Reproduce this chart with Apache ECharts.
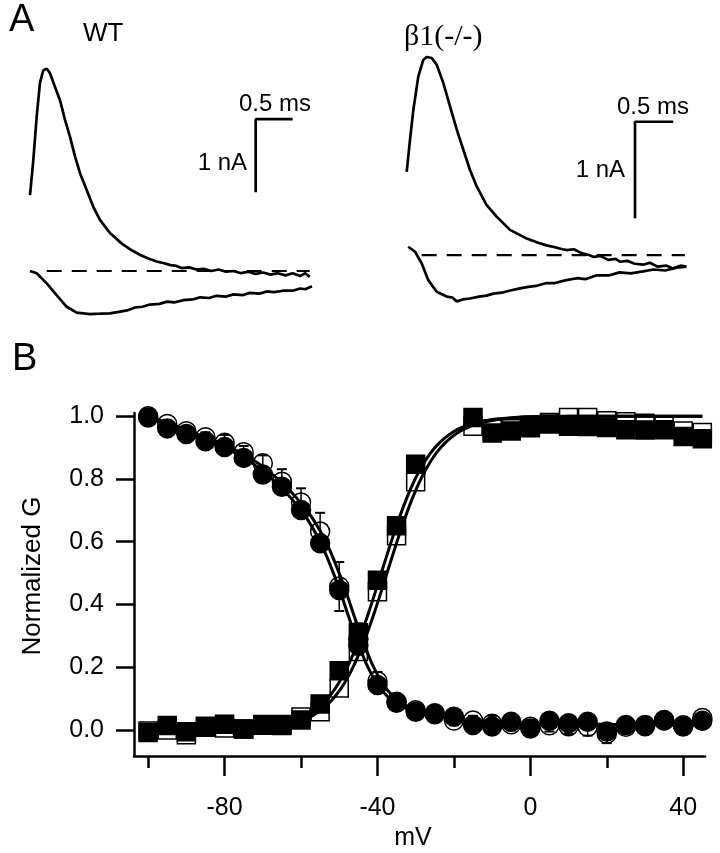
<!DOCTYPE html>
<html><head><meta charset="utf-8">
<script src="https://cdn.jsdelivr.net/npm/echarts@6/dist/echarts.min.js"></script>
<style>html,body{margin:0;padding:0;background:#fff}#c{width:720px;height:853px}</style>
</head><body><div id="c"></div>
<script>
// ---------- Panel A : WT traces (time in ms, current in nA) ----------
const wtUpT = [0,0.045,0.09,0.135,0.18,0.226,0.27,0.338,0.405,0.473,0.54,0.608,0.676,0.766,0.855,0.946,1.08,1.18,1.26,1.38,1.49,1.6,1.71,1.8,1.9,1.98,2.05,2.15,2.25,2.35,2.45,2.55,2.65,2.75,2.85,2.95,3.05,3.15,3.25,3.35,3.45,3.55,3.65,3.72,3.78];
const wtUpI = [1.04,1.52,2.11,2.58,2.75,2.77,2.71,2.52,2.34,2.07,1.84,1.57,1.34,1.11,0.88,0.70,0.52,0.43,0.36,0.28,0.22,0.17,0.13,0.11,0.08,0.07,0.04,0.05,0.02,0.03,0.0,0.02,-0.01,0.0,-0.03,-0.01,-0.04,-0.02,-0.05,-0.03,-0.06,-0.03,-0.07,-0.03,-0.08];
const wtLoT = [0,0.09,0.226,0.36,0.496,0.63,0.81,0.95,1.08,1.2,1.31,1.42,1.52,1.62,1.75,1.85,1.95,2.07,2.2,2.3,2.42,2.52,2.65,2.75,2.88,2.97,3.1,3.2,3.3,3.42,3.55,3.65,3.72,3.81];
const wtLoI = [0.0,-0.03,-0.17,-0.33,-0.49,-0.57,-0.59,-0.585,-0.58,-0.56,-0.54,-0.5,-0.49,-0.46,-0.45,-0.42,-0.43,-0.40,-0.39,-0.36,-0.37,-0.34,-0.35,-0.32,-0.33,-0.30,-0.31,-0.28,-0.29,-0.27,-0.27,-0.24,-0.25,-0.21];
const wtBaseT = [0.226,3.78];
const wtBarT = [3.55,3.05,3.05];
const wtBarI = [2.08,2.08,1.08];

// ---------- Panel A : beta1(-/-) traces ----------
const b1UpT = [0,0.043,0.087,0.153,0.218,0.263,0.329,0.395,0.482,0.57,0.658,0.745,0.833,0.921,1.05,1.18,1.36,1.58,1.72,1.84,1.95,2.05,2.11,2.2,2.3,2.4,2.46,2.55,2.65,2.75,2.81,2.9,3.0,3.11,3.2,3.3,3.42,3.5,3.6,3.68];
const b1UpI = [0.86,1.19,1.50,1.85,2.02,2.05,2.04,1.97,1.78,1.54,1.30,1.09,0.88,0.71,0.52,0.40,0.26,0.17,0.13,0.10,0.08,0.06,0.05,0.06,0.02,0.0,-0.02,-0.01,-0.05,-0.04,-0.07,-0.06,-0.09,-0.10,-0.08,-0.12,-0.11,-0.14,-0.11,-0.12];
const b1LoT = [0.02,0.11,0.197,0.284,0.395,0.526,0.6,0.658,0.74,0.833,0.95,1.05,1.14,1.25,1.35,1.49,1.6,1.7,1.84,1.95,2.1,2.24,2.35,2.5,2.67,2.8,2.95,3.11,3.25,3.4,3.55,3.68];
const b1LoI = [0.086,0.034,-0.086,-0.26,-0.38,-0.43,-0.44,-0.48,-0.46,-0.45,-0.43,-0.42,-0.40,-0.39,-0.37,-0.345,-0.33,-0.32,-0.29,-0.29,-0.26,-0.24,-0.25,-0.21,-0.21,-0.18,-0.19,-0.17,-0.15,-0.16,-0.13,-0.12];
const b1BaseT = [0.197,3.66];
const b1BarT = [3.508,3.004,3.004];
const b1BarI = [1.38,1.38,0.38];

// ---------- Panel B : normalized conductance vs mV ----------
const volts = [-100,-95,-90,-85,-80,-75,-70,-65,-60,-55,-50,-45,-40,-35,-30,-25,-20,-15,-10,-5,0,5,10,15,20,25,30,35,40,45];
const inactFilled = [0.996,0.961,0.943,0.92,0.902,0.867,0.814,0.775,0.701,0.595,0.446,0.27,0.143,0.087,0.058,0.053,0.042,0.016,0.011,0.026,0.005,0.029,0.021,0.026,-0.005,0.016,0.016,0.032,0.011,0.029];
const inactOpen = [1.0,0.975,0.952,0.933,0.915,0.885,0.85,0.791,0.725,0.632,0.457,0.29,0.155,0.09,0.063,0.05,0.03,0.03,0.02,0.018,0.01,0.015,0.012,0.01,-0.012,0.01,0.012,0.03,0.015,0.038];
const inactOpenErr = [0,0.01,0.012,0.015,0.025,0.02,0.025,0.04,0.045,0.06,0.078,0.05,0.03,0.015,0.01,0.01,0.015,0.015,0.025,0.02,0.01,0.02,0.025,0.028,0.03,0.015,0.025,0.01,0.01,0.01];
const actFilled = [-0.008,0.014,-0.006,0.009,0.018,0.003,0.017,0.014,0.032,0.083,0.189,0.31,0.477,0.651,0.847,null,null,0.996,0.946,0.953,0.963,0.975,0.968,0.967,0.964,0.957,0.956,0.957,0.935,0.928];
const actOpen = [-0.003,0.0,-0.015,0.012,0.006,0.003,0.015,0.017,0.041,0.058,0.134,0.25,0.44,0.619,0.791,null,null,0.968,0.96,0.96,0.97,0.98,0.996,0.996,0.985,0.982,0.977,0.968,0.953,0.948];

// fitted curves
const actFitV1 = [-100,-90,-80,-70,-65,-60,-57.5,-55,-52.5,-50,-47.5,-45,-42.5,-40,-37.5,-35,-32.5,-30,-27.5,-25,-22.5,-20,-17.5,-15,-10,-5,0,10,45];
const actFitV2 = [-100,-88.5,-78.5,-68.5,-63.5,-58.5,-56,-53.5,-51,-48.5,-46,-43.5,-41,-38.5,-36,-33.5,-31,-28.5,-26,-23.5,-21,-18.5,-16,-13.5,-8.5,-3.5,1.5,11.5,45];
const actFitG = [0.0,0.0003,0.002,0.008,0.017,0.036,0.053,0.076,0.108,0.152,0.21,0.282,0.367,0.461,0.558,0.651,0.734,0.803,0.858,0.899,0.929,0.951,0.966,0.977,0.989,0.995,0.998,0.9995,1.0];
const inactFitV1 = [-100,-95,-90,-85,-80,-75,-70,-65,-60,-57.5,-55,-52.5,-50,-47.5,-45,-42.5,-40,-37.5,-35,-30,-25,-20,-10,0,45];
const inactFitV2 = [-100,-93.5,-88.5,-83.5,-78.5,-73.5,-68.5,-63.5,-58.5,-56,-53.5,-51,-48.5,-46,-43.5,-41,-38.5,-36,-33.5,-28.5,-23.5,-18.5,-8.5,1.5,45];
const inactFitH1 = [0.995,0.972,0.948,0.925,0.9,0.868,0.825,0.77,0.7,0.655,0.6,0.53,0.45,0.36,0.275,0.2,0.145,0.108,0.083,0.058,0.045,0.035,0.025,0.02,0.015];
const inactFitH2 = [1.0,0.972,0.948,0.925,0.9,0.868,0.825,0.77,0.7,0.655,0.6,0.53,0.45,0.36,0.275,0.2,0.145,0.108,0.083,0.058,0.045,0.035,0.025,0.02,0.015];

const xMajorTicks = [-80,-40,0,40];
const xMinorTicks = [-100,-60,-20,20];
const yTicks = [0,0.2,0.4,0.6,0.8,1.0];

// ---------- build ----------
const FONT = '"Liberation Sans", Arial, Helvetica, sans-serif';
const zip = (xs, ys) => xs.map((x, i) => ys[i] == null ? null : [x, ys[i]]).filter(Boolean);
const zipC = (xs, v) => xs.map(x => [x, v]);

function trace(xi, yi, data, extra) {
  return Object.assign({type:'line', xAxisIndex:xi, yAxisIndex:yi, data:data, symbol:'none', showSymbol:false,
    lineStyle:{color:'#000', width:2.7}, silent:true, clip:false}, extra||{});
}
function fitLine(data) {
  return {type:'line', xAxisIndex:2, yAxisIndex:2, data:data, symbol:'none', showSymbol:false, smooth:0.4,
    lineStyle:{color:'#000', width:3}, silent:true, clip:false, z:3};
}
function scatter(data, sym, size, filled, z) {
  return {type:'scatter', xAxisIndex:2, yAxisIndex:2, data:data, symbol:sym, symbolSize:size, clip:false, silent:true, z:z,
    itemStyle:{color: filled ? '#000' : '#fff', borderColor:'#000', borderWidth:1.5, opacity:1}};
}
function txt(x, y, text, size, align, family, rot) {
  return {type:'text', x:x, y:y, rotation: rot||0, silent:true,
    style:{text:text, font: size + 'px ' + (family||FONT), fill:'#000', textAlign:align||'left', align:align||'left', textVerticalAlign:'middle', verticalAlign:'middle'}};
}

const chart = echarts.init(document.getElementById('c'));
const option = {
  animation:false,
  backgroundColor:'#fff',
  grid:[
    {left:30, top:37.4, width:296, height:292},
    {left:406.7, top:23.2, width:304, height:309.1},
    {left:134, top:413, width:571, height:343}
  ],
  xAxis:[
    {gridIndex:0, type:'value', min:0, max:4, show:false},
    {gridIndex:1, type:'value', min:0, max:4, show:false},
    {gridIndex:2, type:'value', position:'bottom', min:-103.7, max:45.7,
      axisLine:{show:true, onZero:false, lineStyle:{color:'#000', width:2.5}},
      axisTick:{show:true, length:20, customValues:xMajorTicks, lineStyle:{color:'#000', width:2.5}},
      axisLabel:{show:true, customValues:xMajorTicks, fontSize:25, fontFamily:FONT, color:'#000', margin:40},
      splitLine:{show:false}},
    {gridIndex:2, type:'value', position:'bottom', min:-103.7, max:45.7,
      axisLine:{show:false, onZero:false},
      axisTick:{show:true, length:12, customValues:xMinorTicks, lineStyle:{color:'#000', width:2.5}},
      axisLabel:{show:false}, splitLine:{show:false}}
  ],
  yAxis:[
    {gridIndex:0, type:'value', min:-0.8, max:3.2, show:false},
    {gridIndex:1, type:'value', min:-0.8, max:2.4, show:false},
    {gridIndex:2, type:'value', min:-0.083, max:1.01,
      axisLine:{show:true, onZero:false, lineStyle:{color:'#000', width:2.5}},
      axisTick:{show:true, length:18, customValues:yTicks, lineStyle:{color:'#000', width:2.5}},
      axisLabel:{show:true, customValues:yTicks, fontSize:25, fontFamily:FONT, color:'#000', margin:30,
        formatter: v => Number(v).toFixed(1)},
      splitLine:{show:false}}
  ],
  series:[
    trace(0,0, zip(wtUpT, wtUpI)),
    trace(0,0, zip(wtLoT, wtLoI)),
    trace(0,0, zipC(wtBaseT, 0), {lineStyle:{color:'#000', width:2.2, type:[15,10]}}),
    trace(0,0, zip(wtBarT, wtBarI), {lineStyle:{color:'#000', width:2.7}}),
    trace(1,1, zip(b1UpT, b1UpI)),
    trace(1,1, zip(b1LoT, b1LoI)),
    trace(1,1, zipC(b1BaseT, 0), {lineStyle:{color:'#000', width:2.2, type:[15,10]}}),
    trace(1,1, zip(b1BarT, b1BarI), {lineStyle:{color:'#000', width:2.7}}),

    scatter(zip(volts, actOpen), 'rect', 18, false, 2),
    scatter(zip(volts, inactOpen), 'circle', 19, false, 2),
    {type:'custom', xAxisIndex:2, yAxisIndex:2, z:3, silent:true, clip:false,
      data: volts.map((v,i) => [v, inactOpen[i], inactOpenErr[i]]),
      renderItem: function(params, api){
        const x = api.value(0), y = api.value(1), e = api.value(2);
        if (!e) return null;
        const p1 = api.coord([x, y + e]), p2 = api.coord([x, y - e]);
        const w = 5;
        return {type:'group', children:[
          {type:'line', shape:{x1:p1[0], y1:p1[1], x2:p2[0], y2:p2[1]}, style:{stroke:'#000', lineWidth:1.5}},
          {type:'line', shape:{x1:p1[0]-w, y1:p1[1], x2:p1[0]+w, y2:p1[1]}, style:{stroke:'#000', lineWidth:2}},
          {type:'line', shape:{x1:p2[0]-w, y1:p2[1], x2:p2[0]+w, y2:p2[1]}, style:{stroke:'#000', lineWidth:2}}
        ]};
      }},
    fitLine(zip(actFitV1, actFitG)),
    fitLine(zip(actFitV2, actFitG)),
    fitLine(zip(inactFitV1, inactFitH1)),
    fitLine(zip(inactFitV2, inactFitH2)),
    scatter(zip(volts, actFilled), 'rect', 18, true, 4),
    scatter(zip(volts, inactFilled), 'circle', 19, true, 4)
  ],
  graphic:[
    txt(9, 21, 'A', 38),
    txt(83, 34, 'WT', 26),
    txt(404, 37, 'β1(-/-)', 30, 'left', '"Liberation Serif", "Times New Roman", serif'),
    txt(239, 104, '0.5 ms', 24),
    txt(247, 163, '1 nA', 24, 'right'),
    txt(617, 107, '0.5 ms', 24),
    txt(625, 170, '1 nA', 24, 'right'),
    txt(12, 360, 'B', 38),
    txt(33, 576, 'Normalized G', 26, 'center', null, Math.PI/2),
    txt(413, 838, 'mV', 25, 'center')
  ]
};
chart.setOption(option);
</script></body></html>
